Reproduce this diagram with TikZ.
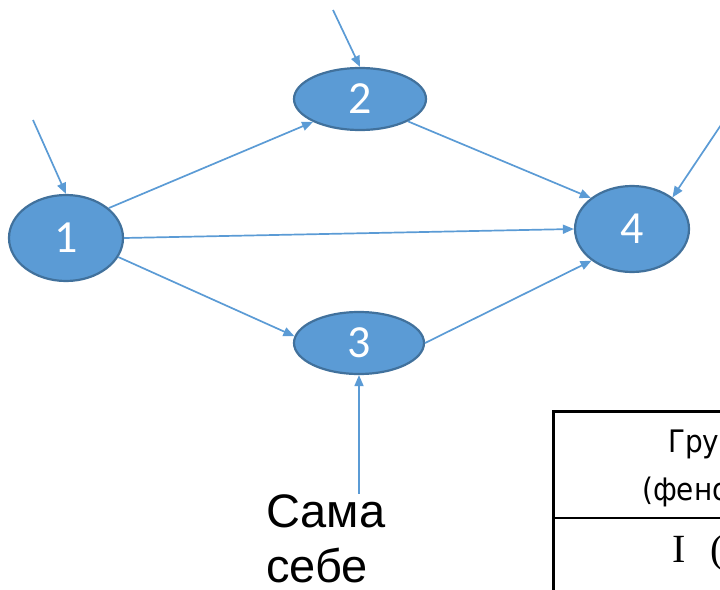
\documentclass[tikz,border=0pt]{standalone}
\usepackage{fontspec}
\setmainfont{Liberation Sans}
\newfontfamily\numfont{Carlito}
\newfontfamily\tabfont{DejaVu Sans Condensed}
\newfontfamily\tabserif{Liberation Serif}
\usetikzlibrary{shapes.geometric,arrows.meta}
\definecolor{nodefill}{HTML}{5B9BD5}
\definecolor{nodeline}{HTML}{41719C}
\definecolor{arrowcol}{HTML}{5B9BD5}
\tikzset{
  x=1pt, y=-1pt,
  vertex/.style={ellipse, draw=nodeline, line width=2.2pt, fill=nodefill,
    inner sep=0pt, text=white, font=\numfont\fontsize{46}{50}\selectfont},
  arr/.style={draw=arrowcol, line width=1.7pt,
    -{Triangle[length=11pt,width=9pt]}},
  label/.style={inner sep=0pt, anchor=base west,
    font=\fontsize{47}{54}\selectfont},
  cell/.style={inner sep=0pt, anchor=base west,
    font=\tabfont\fontsize{31}{36}\selectfont},
}
\begin{document}
\begin{tikzpicture}
\useasboundingbox (0,0) rectangle (720,589);
\clip (0,0) rectangle (720,589);

% graph vertices
\node[vertex, minimum width=114pt, minimum height=86pt] (n1) at (66,238) {1};
\node[vertex, minimum width=132pt, minimum height=62pt] (n2) at (360,99) {2};
\node[vertex, minimum width=130pt, minimum height=62pt] (n3) at (359,343) {3};
\node[vertex, minimum width=114pt, minimum height=86pt] (n4) at (632,229) {4};

% external inputs
\coordinate (in1) at (33,120);
\coordinate (in2) at (333,10);
\coordinate (in4) at (727,116);
\node[label] (sama) at (266,527) {Сама};
\node[label] (sebe) at (266,582) {себе};

% edges
\draw[arr] (in1) -- (n1.north);
\draw[arr] (in2) -- (n2.north);
\draw[arr] (in4) -- (n4.38);
\draw[arr] (n1.35) -- (n2.206);
\draw[arr] (n1.east) -- (n4.west);
\draw[arr] (n1.340) -- (n3.174);
\draw[arr] (n2.335) -- (n4.143);
\draw[arr] (n3.east) -- (n4.218);
\draw[arr] (n3.south |- sama.north) -- (n3.south);

% table fragment
\coordinate (tl) at (553.5,411.5);
\draw[line width=3.5pt] (553.5,600) -- (tl) -- (730,411.5);
\draw[line width=1.7pt] (553.5,518) -- (730,518);
\node[cell] (h1) at (668,452) {Группа};
\node[cell] (h2) at (642,500) {(фенотип)};
\node[inner sep=0pt, anchor=base west, font=\tabserif\fontsize{40}{44}\selectfont]
  (r1) at (672,562) {I\hspace{25pt}(0)};
\end{tikzpicture}
\end{document}
